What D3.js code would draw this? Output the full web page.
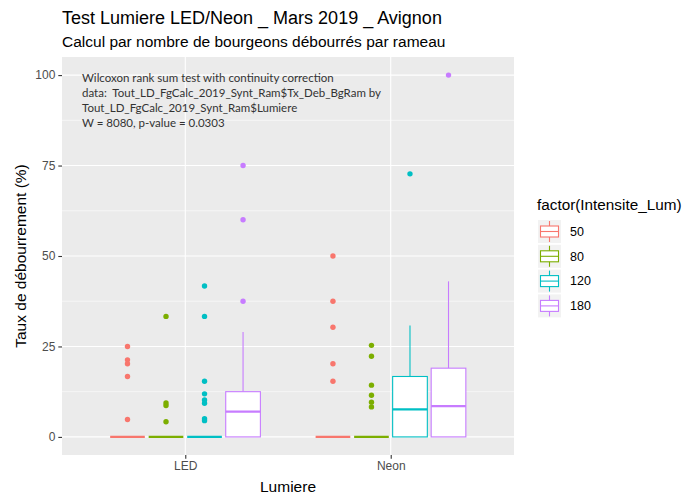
<!DOCTYPE html>
<html>
<head>
<meta charset="utf-8">
<script src="https://cdn.jsdelivr.net/npm/d3@7"></script>
<style>
  html, body { margin: 0; padding: 0; background: #ffffff; }
  svg { display: block; }
</style>
</head>
<body>
<svg id="chart" width="686" height="497"></svg>
<script>
// ---- Data ----
const lumiere = ["LED", "Neon"];
const intensites = ["50", "80", "120", "180"];
const colors = ["#F8766D", "#7CAE00", "#00BFC4", "#C77CFF"];
const yTicks = [0, 25, 50, 75, 100];
const yMinor = [12.5, 37.5, 62.5, 87.5];

const boxLumiere  = ["LED", "LED", "LED", "LED", "Neon", "Neon", "Neon", "Neon"];
const boxIntens   = ["50", "80", "120", "180", "50", "80", "120", "180"];
const boxLower    = [0, 0, 0, 0, 0, 0, 0, 0];
const boxQ1       = [0, 0, 0, 0, 0, 0, 0, 0];
const boxMedian   = [0, 0, 0, 7.0, 0, 0, 7.6, 8.5];
const boxQ3       = [0, 0, 0, 12.5, 0, 0, 16.7, 19.0];
const boxUpper    = [0, 0, 0, 29.0, 0, 0, 30.8, 43.0];
const boxOutliers = [
  [25, 21.3, 20.2, 16.7, 4.8],
  [33.3, 9.4, 8.7, 4.2],
  [41.7, 33.3, 15.4, 11.9, 10.2, 9.3, 5.0, 4.5],
  [75, 60, 37.5],
  [50, 37.5, 30.3, 20.2, 15.4],
  [25.3, 22.3, 14.3, 11.5, 9.6, 8.3],
  [72.7],
  [100]
];

const titleText = "Test Lumiere LED/Neon _ Mars 2019 _ Avignon";
const subtitleText = "Calcul par nombre de bourgeons débourrés par rameau";
const annotationLines = [
  "Wilcoxon rank sum test with continuity correction",
  "data:  Tout_LD_FgCalc_2019_Synt_Ram$Tx_Deb_BgRam by",
  "Tout_LD_FgCalc_2019_Synt_Ram$Lumiere",
  "W = 8080, p-value = 0.0303"
];
const xTitle = "Lumiere";
const yTitle = "Taux de débourrement (%)";
const legendTitle = "factor(Intensite_Lum)";

// ---- Layout ----
const svg = d3.select("#chart");
const panel = { left: 62, right: 514, top: 57, bottom: 455 };
const font = "'Liberation Sans', Arial, sans-serif";

const y = d3.scaleLinear().domain([-5, 105]).range([panel.bottom, panel.top]);
const x = d3.scalePoint().domain(lumiere).range([panel.left, panel.right]).padding(0.6);
const step = x.step();
const xi = d3.scaleBand().domain(intensites)
  .range([-0.375 * step, 0.375 * step]).paddingInner(0.1).paddingOuter(0.05);
const color = d3.scaleOrdinal().domain(intensites).range(colors);

// Panel background
svg.append("rect")
  .attr("x", panel.left).attr("y", panel.top)
  .attr("width", panel.right - panel.left).attr("height", panel.bottom - panel.top)
  .attr("fill", "#EBEBEB");

// Grid
const grid = svg.append("g");
grid.selectAll(".ymin").data(yMinor).enter().append("line")
  .attr("x1", panel.left).attr("x2", panel.right)
  .attr("y1", d => y(d)).attr("y2", d => y(d))
  .attr("stroke", "#ffffff").attr("stroke-width", 0.55);
grid.selectAll(".ymaj").data(yTicks).enter().append("line")
  .attr("x1", panel.left).attr("x2", panel.right)
  .attr("y1", d => y(d)).attr("y2", d => y(d))
  .attr("stroke", "#ffffff").attr("stroke-width", 1.1);
grid.selectAll(".xmaj").data(lumiere).enter().append("line")
  .attr("x1", d => x(d)).attr("x2", d => x(d))
  .attr("y1", panel.top).attr("y2", panel.bottom)
  .attr("stroke", "#ffffff").attr("stroke-width", 1.1);

// Boxes
const boxes = boxLumiere.map((l, i) => ({
  lum: l, int: boxIntens[i], lower: boxLower[i], q1: boxQ1[i], med: boxMedian[i],
  q3: boxQ3[i], upper: boxUpper[i], out: boxOutliers[i]
}));
const bw = xi.bandwidth();
const bg = svg.append("g");
boxes.forEach(b => {
  const cx = x(b.lum) + xi(b.int) + bw / 2;
  const c = color(b.int);
  const g = bg.append("g");
  g.append("line").attr("x1", cx).attr("x2", cx)
    .attr("y1", y(b.q3)).attr("y2", y(b.upper))
    .attr("stroke", c).attr("stroke-width", 1.1);
  g.append("line").attr("x1", cx).attr("x2", cx)
    .attr("y1", y(b.q1)).attr("y2", y(b.lower))
    .attr("stroke", c).attr("stroke-width", 1.1);
  g.append("rect")
    .attr("x", cx - bw / 2).attr("y", y(b.q3))
    .attr("width", bw).attr("height", Math.max(0, y(b.q1) - y(b.q3)))
    .attr("fill", "#ffffff").attr("stroke", c).attr("stroke-width", 1.1);
  g.append("line")
    .attr("x1", cx - bw / 2).attr("x2", cx + bw / 2)
    .attr("y1", y(b.med)).attr("y2", y(b.med))
    .attr("stroke", c).attr("stroke-width", 2.2);
  g.selectAll("circle").data(b.out).enter().append("circle")
    .attr("cx", cx).attr("cy", d => y(d)).attr("r", 2.7)
    .attr("fill", c);
});

// Axes
const yAxis = d3.axisLeft(y).tickValues(yTicks).tickSize(3.7).tickPadding(3);
const gy = svg.append("g").attr("transform", `translate(${panel.left},0)`).call(yAxis);
gy.select(".domain").remove();
gy.selectAll(".tick line").attr("stroke", "#333333").attr("stroke-width", 1.1);
gy.selectAll(".tick text").attr("fill", "#4D4D4D").style("font-family", font).style("font-size", "12px");

const xAxis = d3.axisBottom(x).tickSize(3.7).tickPadding(3);
const gx = svg.append("g").attr("transform", `translate(0,${panel.bottom})`).call(xAxis);
gx.select(".domain").remove();
gx.selectAll(".tick line").attr("stroke", "#333333").attr("stroke-width", 1.1);
gx.selectAll(".tick text").attr("fill", "#4D4D4D").style("font-family", font).style("font-size", "12px");

// Axis titles
svg.append("text").attr("x", (panel.left + panel.right) / 2).attr("y", 492)
  .attr("text-anchor", "middle").style("font-family", font).style("font-size", "15.5px")
  .attr("fill", "#000").text(xTitle);
svg.append("text")
  .attr("transform", `translate(26,${(panel.top + panel.bottom) / 2}) rotate(-90)`)
  .attr("text-anchor", "middle").style("font-family", font).style("font-size", "15.5px")
  .attr("fill", "#000").text(yTitle);

// Titles
svg.append("text").attr("x", panel.left).attr("y", 24)
  .style("font-family", font).style("font-size", "18px").attr("fill", "#000").text(titleText);
svg.append("text").attr("x", panel.left).attr("y", 47)
  .style("font-family", font).style("font-size", "15.5px").attr("fill", "#000").text(subtitleText);

// Annotation
const ann = svg.append("g");
annotationLines.forEach((t, i) => {
  ann.append("text").attr("x", 82).attr("y", 82 + i * 15)
    .style("font-family", "Lato, 'Open Sans', sans-serif").style("font-size", "11.5px")
    .style("white-space", "pre")
    .attr("fill", "#333333").text(t);
});

// Legend
const lg = svg.append("g");
lg.append("text").attr("x", 537).attr("y", 210)
  .style("font-family", font).style("font-size", "15.3px").attr("fill", "#000").text(legendTitle);
intensites.forEach((k, i) => {
  const ky = 220 + i * 24.8;
  const kx = 538;
  const c = color(k);
  lg.append("rect").attr("x", kx).attr("y", ky).attr("width", 23).attr("height", 23).attr("fill", "#F2F2F2");
  lg.append("line").attr("x1", kx + 11.5).attr("x2", kx + 11.5).attr("y1", ky + 1).attr("y2", ky + 22)
    .attr("stroke", c).attr("stroke-width", 1.1);
  lg.append("rect").attr("x", kx + 2.5).attr("y", ky + 6).attr("width", 18).attr("height", 11)
    .attr("fill", "#ffffff").attr("stroke", c).attr("stroke-width", 1.1);
  lg.append("line").attr("x1", kx + 2.5).attr("x2", kx + 20.5).attr("y1", ky + 11.5).attr("y2", ky + 11.5)
    .attr("stroke", c).attr("stroke-width", 1.1);
  lg.append("text").attr("x", 570).attr("y", ky + 11.5).attr("dy", "0.35em")
    .style("font-family", font).style("font-size", "12.5px").attr("fill", "#000").text(k);
});
</script>
</body>
</html>
